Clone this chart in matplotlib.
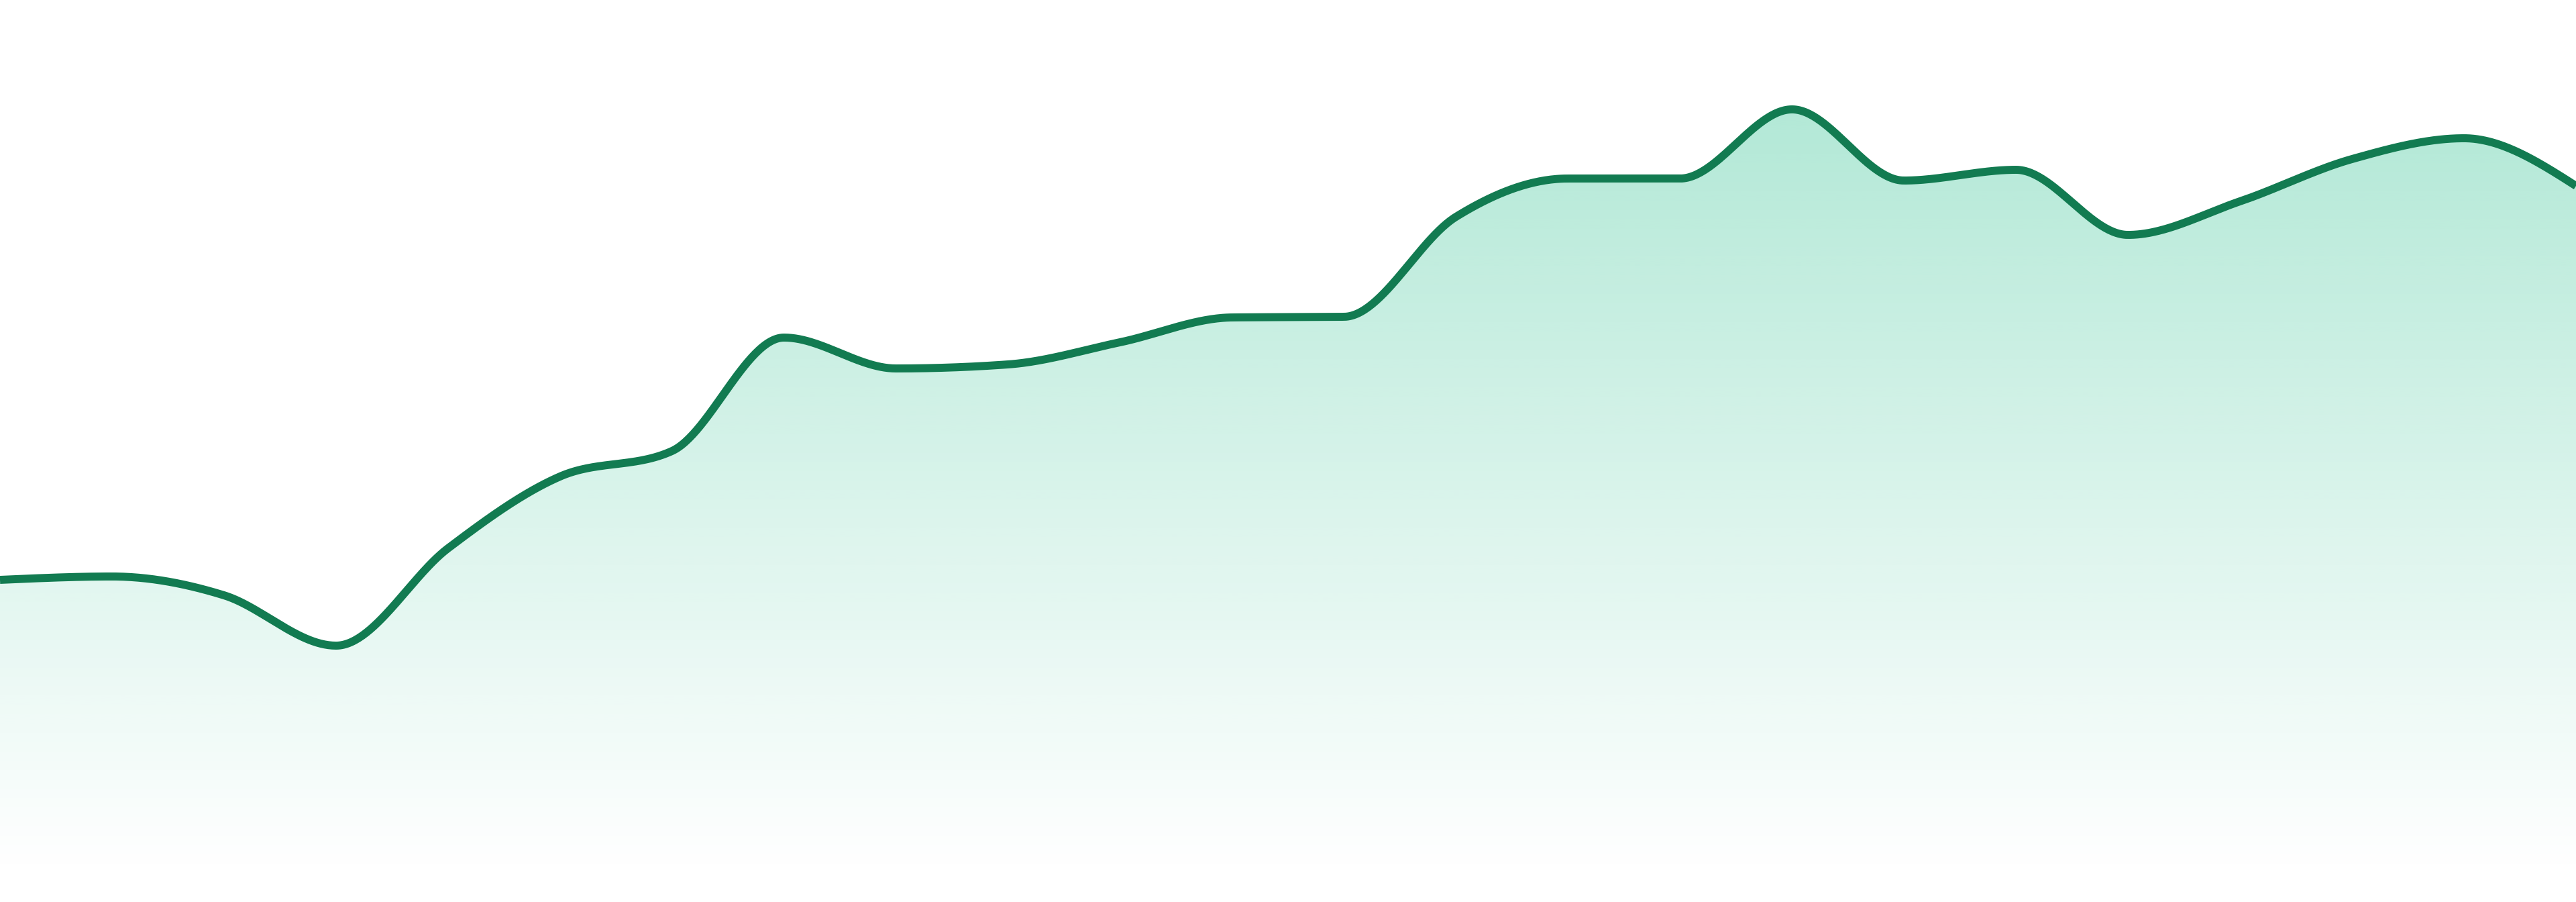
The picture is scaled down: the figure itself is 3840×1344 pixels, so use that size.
import numpy as np
import matplotlib
matplotlib.use("Agg")
import matplotlib.pyplot as plt

# values (arbitrary units, baseline = 0)
steps = list(range(24))
values = [439, 444, 416, 341, 486, 593, 631, 800, 754, 760, 793, 830,
          831, 980, 1037, 1037, 1140, 1034, 1050, 953, 1003, 1066, 1097, 1026]

line_color = "#127B51"
fill_rgb = (16 / 255, 185 / 255, 129 / 255)


def monotone_x(x, y, n=60):
    # same curve as d3.curveMonotoneX: cubic bezier with Fritsch-Carlson slopes
    x = np.asarray(x, float)
    y = np.asarray(y, float)
    h = np.diff(x)
    s = np.diff(y) / h
    t = np.zeros(len(x))
    for i in range(1, len(x) - 1):
        h0, h1, s0, s1 = h[i - 1], h[i], s[i - 1], s[i]
        p = (s0 * h1 + s1 * h0) / (h0 + h1)
        t[i] = (np.sign(s0) + np.sign(s1)) * min(abs(s0), abs(s1), 0.5 * abs(p))
    t[0] = (3 * s[0] - t[1]) / 2
    t[-1] = (3 * s[-1] - t[-2]) / 2
    xs, ys = [], []
    u = np.linspace(0, 1, n)
    for i in range(len(x) - 1):
        dx = h[i] / 3
        p0 = (x[i], y[i])
        p1 = (x[i] + dx, y[i] + dx * t[i])
        p2 = (x[i + 1] - dx, y[i + 1] - dx * t[i + 1])
        p3 = (x[i + 1], y[i + 1])
        b0, b1, b2, b3 = (1 - u) ** 3, 3 * (1 - u) ** 2 * u, 3 * (1 - u) * u ** 2, u ** 3
        xs.append(b0 * p0[0] + b1 * p1[0] + b2 * p2[0] + b3 * p3[0])
        ys.append(b0 * p0[1] + b1 * p1[1] + b2 * p2[1] + b3 * p3[1])
    return np.concatenate(xs), np.concatenate(ys)


cx, cy = monotone_x(steps, values)

fig = plt.figure(figsize=(38.4, 13.44), dpi=100)
ax = fig.add_axes([0, 0, 1, 1])
ax.set_xlim(steps[0], steps[-1])
ax.set_ylim(-41, 1303)
ax.axis("off")

# gradient fill under the curve
top = max(values)
grad = np.zeros((256, 2, 4))
grad[..., 0], grad[..., 1], grad[..., 2] = fill_rgb
grad[..., 3] = np.linspace(0.32, 0.0, 256)[:, None]
poly = ax.fill_between(cx, cy, 0, color="none", lw=0)
img = ax.imshow(grad, extent=(steps[0], steps[-1], 0, top), aspect="auto",
                origin="upper", interpolation="bilinear", zorder=1)
img.set_clip_path(poly.get_paths()[0], transform=ax.transData)

ax.plot(cx, cy, color=line_color, lw=8.6, solid_capstyle="butt", zorder=3)

fig.savefig("out.png", dpi=100, facecolor="white")
